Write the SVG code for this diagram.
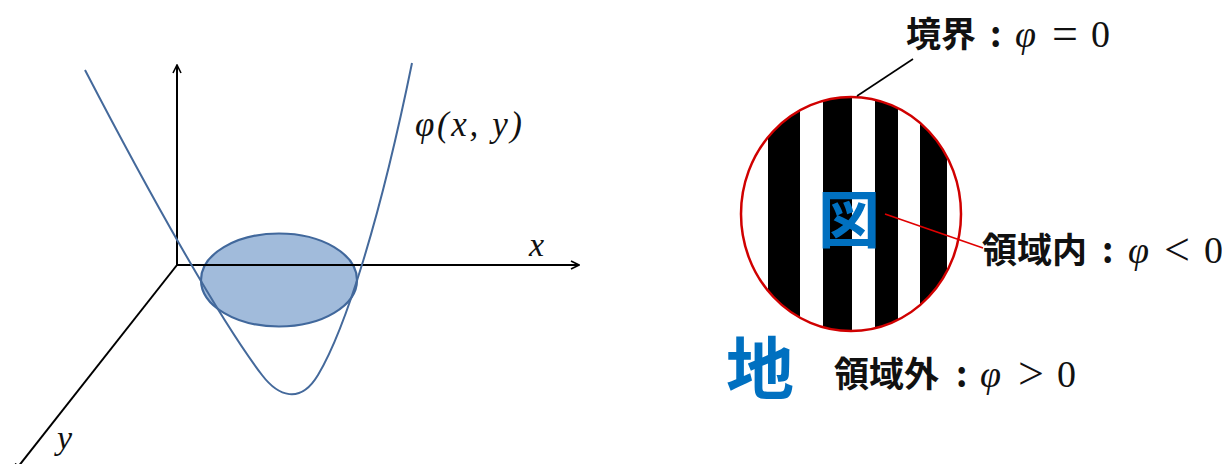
<svg xmlns="http://www.w3.org/2000/svg" width="1222" height="464" viewBox="0 0 1222 464">
<style>
.axis{stroke:#000;stroke-width:2;fill:none}
.curve{stroke:#44699b;stroke-width:2;fill:none}
.math{font-family:"Liberation Serif","Times New Roman",serif;font-style:italic;fill:#111}
.mathr{font-family:"Liberation Serif","Times New Roman",serif;fill:#111}
.jp{font-family:"Noto Sans CJK JP","Noto Sans CJK SC",sans-serif;font-weight:bold;fill:#111}
.big{font-family:"Noto Sans CJK JP","Noto Sans CJK SC",sans-serif;font-weight:bold;fill:#0070c0}
</style>
<defs>
<marker id="arr" viewBox="0 0 10 10" refX="9" refY="5" markerWidth="5" markerHeight="5" orient="auto">
<path d="M1,1 L9,5 L1,9" fill="none" stroke="#000" stroke-width="1.6"/>
</marker>
<clipPath id="disc"><ellipse cx="851" cy="214" rx="110" ry="117"/></clipPath>
</defs>

<g id="graph3d">
<ellipse id="region" cx="279" cy="280" rx="78" ry="46.5" fill="#a1bbdb" stroke="#41689c" stroke-width="2.2"/>
<g id="axes">
<line class="axis" x1="177" y1="265" x2="177" y2="65" marker-end="url(#arr)"/>
<line class="axis" x1="177" y1="265" x2="579" y2="265" marker-end="url(#arr)"/>
<line class="axis" x1="177" y1="265" x2="14" y2="472" marker-end="url(#arr)"/>
</g>
<path id="phi-curve" class="curve" d="M85,70 C150,195 220,320 262,375 C278,396 300,405 318,375 C345,330 380,220 412,63"/>
<text class="math" x="415" y="136" font-size="35" textLength="107" lengthAdjust="spacing">φ(x, y)</text>
<text class="math" x="529" y="256" font-size="34">x</text>
<text class="math" x="57" y="449" font-size="34">y</text>
</g>

<g id="figure-ground">
<g id="disc-node">
<g clip-path="url(#disc)">
<rect x="740" y="96" width="222" height="236" fill="#fff"/>
<rect x="768" y="90" width="32" height="250" fill="#000"/>
<rect x="823" y="90" width="29" height="250" fill="#000"/>
<rect x="875" y="90" width="23" height="250" fill="#000"/>
<rect x="920" y="90" width="27" height="250" fill="#000"/>
</g>
<ellipse cx="851" cy="214" rx="110" ry="117" fill="none" stroke="#d00000" stroke-width="2.5"/>
<text class="big" x="849" y="243" font-size="62" text-anchor="middle">図</text>
</g>
<g id="connectors">
<line x1="857" y1="96" x2="913" y2="59" stroke="#000" stroke-width="1.6"/>
<line x1="885" y1="214" x2="983" y2="248" stroke="#e00000" stroke-width="1.6"/>
</g>
<g id="label-boundary">
<text class="jp" x="906" y="47" font-size="35">境界</text>
<text class="jp" x="990" y="47" font-size="35">:</text>
<text class="math" x="1015" y="47" font-size="38">φ</text>
<text class="mathr" x="1052" y="49" font-size="46">=</text>
<text class="mathr" x="1091" y="47" font-size="38">0</text>
</g>
<g id="label-inside">
<text class="jp" x="982" y="263" font-size="35">領域内</text>
<text class="jp" x="1102" y="263" font-size="35">:</text>
<text class="math" x="1128" y="263" font-size="38">φ</text>
<text class="mathr" x="1164" y="265" font-size="46">&lt;</text>
<text class="mathr" x="1204" y="263" font-size="38">0</text>
</g>
<g id="ground">
<text class="big" x="726" y="394" font-size="68">地</text>
</g>
<g id="label-outside">
<text class="jp" x="834" y="387" font-size="35">領域外</text>
<text class="jp" x="956" y="387" font-size="35">:</text>
<text class="math" x="980" y="387" font-size="38">φ</text>
<text class="mathr" x="1018" y="389" font-size="46">&gt;</text>
<text class="mathr" x="1057" y="387" font-size="38">0</text>
</g>
</g>
</svg>
